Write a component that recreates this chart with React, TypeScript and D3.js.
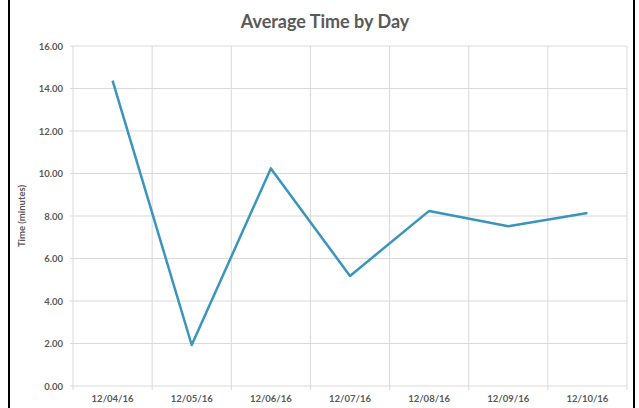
import React from "react";
import * as d3 from "d3";

const categories = ["12/04/16", "12/05/16", "12/06/16", "12/07/16", "12/08/16", "12/09/16", "12/10/16"];
const values = [14.37, 1.93, 10.24, 5.18, 8.24, 7.52, 8.14];
const yTicks = [0, 2, 4, 6, 8, 10, 12, 14, 16];

const W = 639;
const H = 408;
const m = { left: 73, right: 12, top: 46, bottom: 22 };
const font = "Lato, 'Open Sans', sans-serif";
const textColor = "#595959";
const gridColor = "#d9d9d9";

export default function App() {
  const x = d3.scaleBand<string>().domain(categories).range([m.left, W - m.right]).paddingInner(0).paddingOuter(0);
  const y = d3.scaleLinear().domain([0, 16]).range([H - m.bottom, m.top]);
  const line = d3
    .line<number>()
    .x((_, i) => (x(categories[i]) as number) + x.bandwidth() / 2)
    .y((d) => y(d));
  const boundaries = categories.map((c) => x(c) as number).concat([W - m.right]);
  const y0 = y(0);

  return (
    <svg width={W} height={H} style={{ position: "absolute", left: 0, top: 0, background: "#fff" }}>
      <rect x={0} y={0} width={W} height={H} fill="#fff" />
      <line x1={9} x2={9} y1={0} y2={H} stroke="#000" strokeWidth={2} />
      <line x1={634} x2={634} y1={0} y2={H} stroke="#000" strokeWidth={2} />
      <text x={325} y={28} textAnchor="middle" fontFamily={font} fontWeight="bold" fontSize={18} fill={textColor}>
        Average Time by Day
      </text>
      {yTicks.map((t) => (
        <g key={t}>
          <line x1={m.left - 3} x2={W - m.right} y1={y(t)} y2={y(t)} stroke={gridColor} strokeWidth={1} />
          <text x={63} y={y(t) + 3.5} textAnchor="end" fontFamily={font} fontWeight="bold" fontSize={9.5} fill={textColor}>
            {t.toFixed(2)}
          </text>
        </g>
      ))}
      {boundaries.map((b, i) => (
        <line key={i} x1={b} x2={b} y1={m.top} y2={y0 + 4} stroke={gridColor} strokeWidth={1} />
      ))}
      {categories.map((c) => (
        <text key={c} x={(x(c) as number) + x.bandwidth() / 2} y={402} textAnchor="middle" fontFamily={font} fontWeight="bold" fontSize={9.5} fill={textColor}>
          {c}
        </text>
      ))}
      <text transform={`translate(25,${(m.top + y0) / 2}) rotate(-90)`} textAnchor="middle" fontFamily={font} fontWeight="bold" fontSize={9.5} fill={textColor}>
        Time (minutes)
      </text>
      <path d={line(values) || ""} fill="none" stroke="#3a95bd" strokeWidth={2.5} strokeLinejoin="round" />
    </svg>
  );
}
